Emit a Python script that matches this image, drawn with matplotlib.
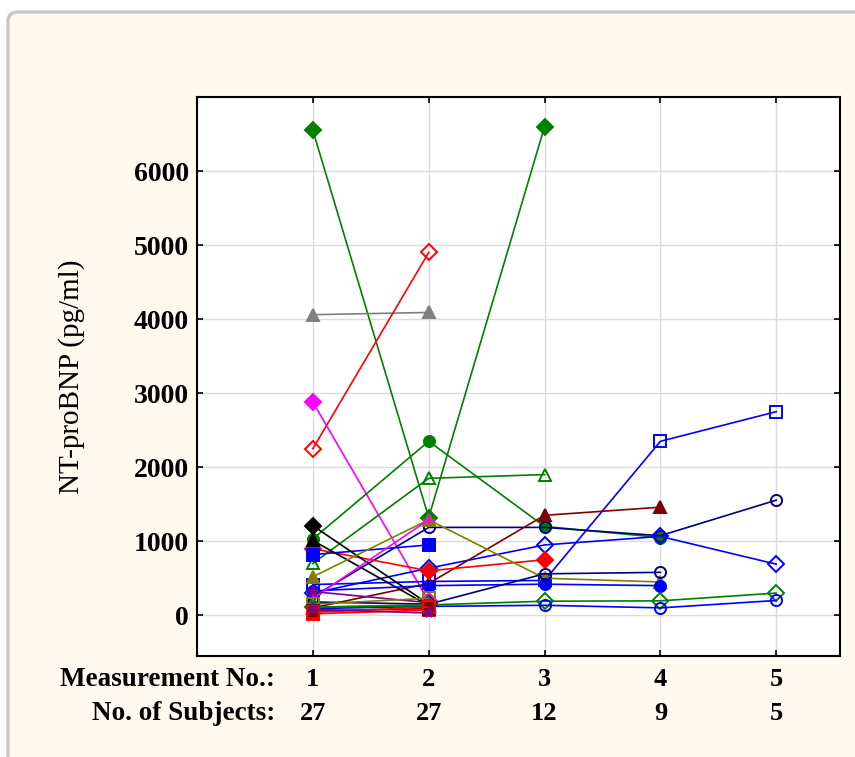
import numpy as np
import matplotlib.pyplot as plt
from matplotlib.patches import FancyBboxPatch
from matplotlib.transforms import blended_transform_factory

# ── Données (NT-proBNP, pg/ml) ──
measurements = [1, 2, 3, 4, 5]
n_subjects = [27, 27, 12, 9, 5]

s01 = [6550, 1320, 6600]
s02 = [4060, 4090]
s03 = [2250, 4900]
s04 = [2880, 190]
s05 = [1030, 2350, 1200, 1050]
s06 = [700, 1850, 1900]
s07 = [415, 457, 470, 2350, 2750]
s08 = [250, 1187, 1187, 1075, 1555]
s09 = [300, 636, 950, 1065, 690]
s10 = [100, 430, 1350, 1460]
s11 = [900, 600, 750]
s12 = [820, 950]
s13 = [1210, 150]
s14 = [1010, 130]
s15 = [520, 1290, 500, 450]
s16 = [330, 400, 420, 400]
s17 = [180, 150, 560, 580]
s18 = [110, 140, 190, 195, 300]
s19 = [90, 120, 135, 100, 200]
s20 = [230, 1290]
s21 = [320, 170]
s22 = [150, 230]
s23 = [110, 130]
s24 = [20, 70]
s25 = [60, 90]
s26 = [40, 110]
s27 = [80, 30]

subjects = [s01, s02, s03, s04, s05, s06, s07, s08, s09, s10, s11, s12, s13, s14,
            s15, s16, s17, s18, s19, s20, s21, s22, s23, s24, s25, s26, s27]

# (couleur, marqueur, plein)
styles = [
    ('#008000', 'D', True), ('#808080', '^', True), ('#FF0000', 'D', False),
    ('#FF00FF', 'D', True), ('#008000', 'o', True), ('#008000', '^', False),
    ('#0000FF', 's', False), ('#000080', 'o', False), ('#0000FF', 'D', False),
    ('#800000', '^', True), ('#FF0000', 'D', True), ('#0000FF', 's', True),
    ('#000000', 'D', True), ('#000000', '^', True), ('#808000', '^', True),
    ('#0000FF', 'o', True), ('#000080', 'o', False), ('#008000', 'D', False),
    ('#0000FF', 'o', False), ('#FF00FF', '+', True), ('#800080', '*', True),
    ('#808000', 's', False), ('#008000', '^', True), ('#FF0000', 's', True),
    ('#800000', 's', True), ('#FF0000', 's', False), ('#800080', '*', True),
]

plt.rcParams['font.family'] = ['Liberation Serif', 'DejaVu Serif']

fig = plt.figure(figsize=(8.55, 7.57), dpi=100, facecolor='white')

# panneau crème avec bordure grise
panel = FancyBboxPatch((8 / 855, -0.05), 1.1, 1 - 12 / 757 + 0.05,
                       boxstyle='round,pad=0,rounding_size=0.012',
                       transform=fig.transFigure, facecolor='#FFF9EE',
                       edgecolor='#C8C8C8', lw=2.5, zorder=-5)
fig.patches.append(panel)

ax = fig.add_axes([197 / 855, 1 - 656 / 757, 643 / 855, 559 / 757])
ax.set_facecolor('white')

for vals, (col, mk, filled) in zip(subjects, styles):
    x = measurements[:len(vals)]
    ax.plot(x, vals, color=col, lw=1.2, marker=mk, markersize=8,
            markerfacecolor=col if filled else 'none', markeredgecolor=col,
            markeredgewidth=1.4)

ax.set_xlim(0, 5.55)
ax.set_ylim(-550, 7000)
ax.set_xticks(measurements)
ax.set_yticks(np.arange(0, 7000, 1000))
ax.set_xticklabels([])
ax.grid(True, color='#DCDCDC', lw=1.0)
ax.set_axisbelow(True)
ax.tick_params(direction='in', length=4, width=1.2, top=True, right=True,
               labelsize=20, pad=6)
for lab in ax.get_yticklabels():
    lab.set_fontweight('bold')
for sp in ax.spines.values():
    sp.set_linewidth(1.5)

ax.set_ylabel('NT-proBNP (pg/ml)', fontsize=21, labelpad=35)

# lignes sous l'axe : numéro de mesure et nombre de sujets
tr = blended_transform_factory(ax.transData, fig.transFigure)
for m, n in zip(measurements, n_subjects):
    ax.text(m, 1 - 679 / 757, str(m), transform=tr, ha='center', va='center',
            fontsize=19, fontweight='bold')
    ax.text(m, 1 - 713 / 757, str(n), transform=tr, ha='center', va='center',
            fontsize=19, fontweight='bold')
fig.text(275 / 855, 1 - 679 / 757, 'Measurement No.:', ha='right', va='center',
         fontsize=19.5, fontweight='bold')
fig.text(275 / 855, 1 - 713 / 757, 'No. of Subjects:', ha='right', va='center',
         fontsize=19.5, fontweight='bold')

plt.savefig('out.png', dpi=100, facecolor=fig.get_facecolor())
